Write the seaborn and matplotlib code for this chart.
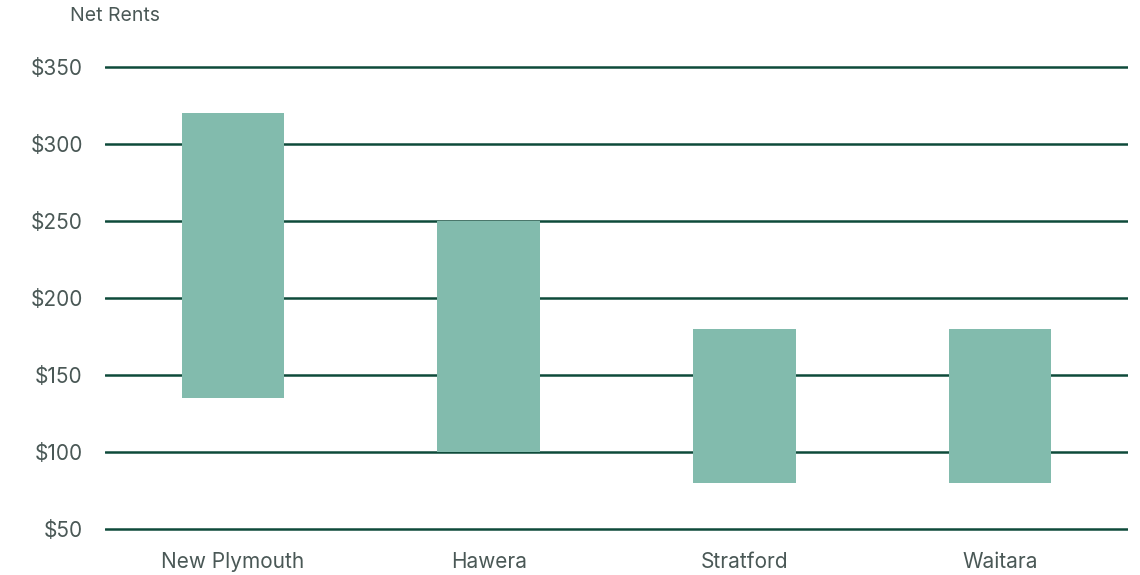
import matplotlib
matplotlib.use("Agg")
import matplotlib.pyplot as plt
import seaborn as sns
import pandas as pd

cities = ["New Plymouth", "Hawera", "Stratford", "Waitara"]
low_rent = [135, 100, 80, 80]
high_rent = [320, 250, 180, 180]
y_ticks = [50, 100, 150, 200, 250, 300, 350]
y_tick_labels = ["$50", "$100", "$150", "$200", "$250", "$300", "$350"]

df = pd.DataFrame({"city": cities, "low": low_rent, "high": high_rent})
df["span"] = df["high"] - df["low"]

sns.set_theme(style="white")
plt.rcParams["font.family"] = ["Inter", "DejaVu Sans"]

text_color = "#4a5856"
grid_color = "#0e4a3a"
bar_color = "#82bbad"

fig = plt.figure(figsize=(11.4, 5.75), dpi=100)
ax = fig.add_axes([0.0921, 0.0666, 0.8974, 0.8303])

sns.barplot(data=df, x="city", y="span", bottom=df["low"].values, color=bar_color,
            width=0.4, saturation=1, ax=ax, zorder=3, linewidth=0)

ax.set_ylim(45, 355)
ax.set_xlim(-0.5, 3.5)
ax.set_yticks(y_ticks)
ax.set_yticklabels(y_tick_labels)
ax.yaxis.grid(True, color=grid_color, linewidth=1.8)
ax.xaxis.grid(False)
ax.set_axisbelow(True)
ax.set_xlabel("")
ax.set_ylabel("")
for s in ax.spines.values():
    s.set_visible(False)
ax.tick_params(axis="y", length=0, pad=16, labelsize=15, labelcolor=text_color)
ax.tick_params(axis="x", length=0, pad=11, labelsize=15, labelcolor=text_color)

fig.text(70 / 1140, 1 - 16 / 575, "Net Rents", fontsize=14, color=text_color,
         ha="left", va="center")

fig.savefig("out.png", dpi=100)
